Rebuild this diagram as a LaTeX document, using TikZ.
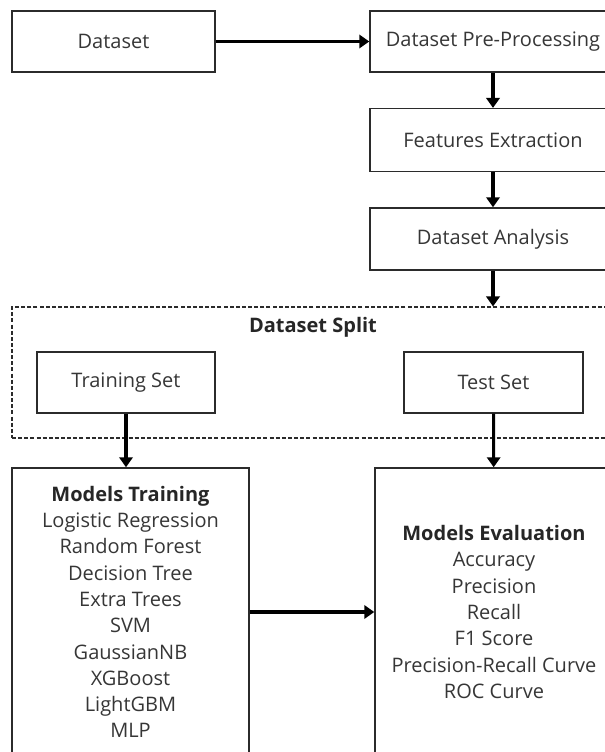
\documentclass[tikz,border=0pt]{standalone}
\usepackage{fontspec}
\setmainfont{Open Sans}
\usetikzlibrary{arrows.meta}
\definecolor{inkgray}{HTML}{363636}
\definecolor{linegray}{HTML}{2B2B2B}
\begin{document}
\begin{tikzpicture}[x = 0.75pt, y = -0.75pt,
    box/.style = {draw = linegray, line width = 1.1pt, text = inkgray, align = center,
      font = \fontsize{15}{19.7}\selectfont, inner sep = 0pt},
    splitbox/.style = {draw = linegray, line width = 0.8pt, dash pattern = on 3pt off 1.6pt,
      inner sep = 0pt},
    head/.style = {font = \fontsize{15}{19.7}\selectfont\bfseries, text = black!85},
    arr/.style = {-{Triangle[length = 7.5pt, width = 10pt]}, line width = 2.3pt, draw = black}]
  \useasboundingbox (0, 0) rectangle (605, 752);
  \clip (0, 0) rectangle (605, 752);
  % top row and right column
  \node [box, minimum width = 152.25pt, minimum height = 45.75pt] (data) at (113.5, 41.5) {Dataset};
  \node [box, minimum width = 184.5pt, minimum height = 45.75pt] (prep) at (493, 41.5) {Dataset Pre-Processing};
  \node [box, minimum width = 184.5pt, minimum height = 47pt] (feat) at (493, 140) {Features Extraction};
  \node [box, minimum width = 184.5pt, minimum height = 46.5pt] (ana) at (493, 239) {Dataset Analysis};
  % split
  \node [splitbox, minimum width = 471pt, minimum height = 98.25pt] (split) at (326, 372.5) {};
  \node [head] (splitlbl) at (313, 327) {Dataset Split};
  \node [box, minimum width = 133.5pt, minimum height = 45.75pt] (train) at (126, 382.5) {Training Set};
  \node [box, minimum width = 134.25pt, minimum height = 45.75pt] (test) at (493.5, 382.5) {Test Set};
  % models
  \node [box, minimum width = 177.75pt, minimum height = 216pt] (mtrain) at (130.5, 612)
    {{\color{black!85}\bfseries Models Training}\\Logistic Regression\\Random Forest\\Decision Tree\\
     Extra Trees\\SVM\\GaussianNB\\XGBoost\\LightGBM\\MLP};
  \node [box, minimum width = 178.5pt, minimum height = 216pt] (meval) at (494, 612)
    {{\color{black!85}\bfseries Models Evaluation}\\Accuracy\\Precision\\Recall\\F1 Score\\
     Precision-Recall Curve\\ROC Curve};
  \draw [arr] (data) -- (prep);
  \draw [arr] (prep) -- (feat);
  \draw [arr] (feat) -- (ana);
  \draw [arr] (ana) -- (ana |- split.north);
  \draw [arr] (train) -- (train |- mtrain.north);
  \draw [arr] (test) -- (meval);
  \draw [arr] (mtrain) -- (meval);
\end{tikzpicture}
\end{document}
